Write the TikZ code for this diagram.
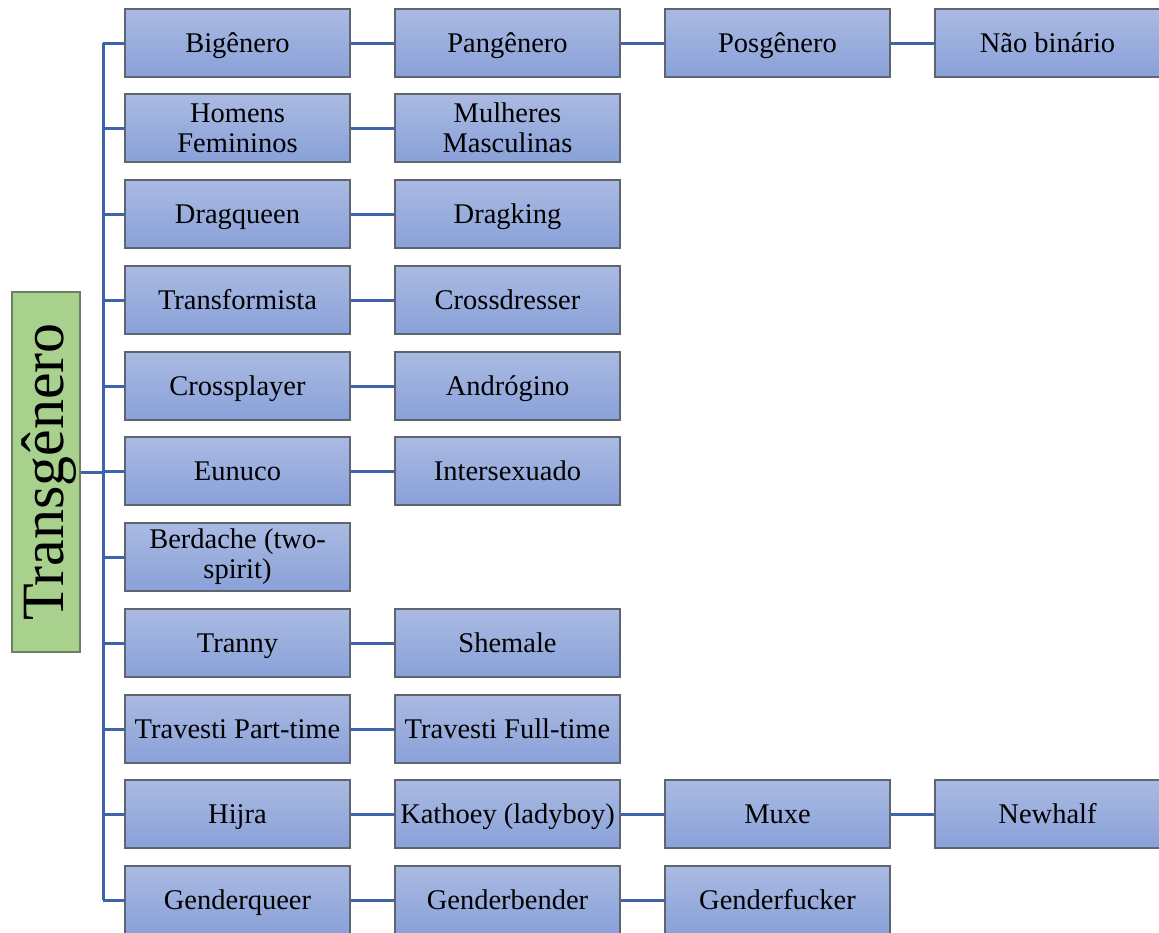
\documentclass[tikz,border=0pt]{standalone}
\usepackage{fontspec}
\setmainfont{Liberation Serif}
\definecolor{boxtop}{HTML}{AABAE2}
\definecolor{boxbot}{HTML}{89A1D9}
\definecolor{boxline}{HTML}{5F6570}
\definecolor{linkc}{HTML}{3E63AC}
\definecolor{rootfill}{HTML}{A9D18E}
\definecolor{rootline}{HTML}{6F7F66}
\begin{document}
\begin{tikzpicture}[x=1pt,y=-1pt,
  item/.style={draw=boxline,line width=1.2pt,top color=boxtop,bottom color=boxbot,
    minimum width=225pt,minimum height=68pt,inner sep=0pt,align=center,
    text height=21pt,text depth=3pt,
    font=\fontsize{28.5}{30}\selectfont},
  twoline/.style={text height=,text depth=},
  rootbox/.style={draw=rootline,line width=1.2pt,fill=rootfill,minimum width=68pt,minimum height=360pt,inner sep=0pt},
  link/.style={draw=linkc,line width=3pt}]
\useasboundingbox (0,0) rectangle (1159,932);
\def\ca{237.5}\def\cb{507.5}\def\cc{777.5}\def\cd{1047.5}
\node[rootbox] (root) at (46,472) {};
\node[rotate=90,font=\fontsize{60}{64}\selectfont] (roott) at ([xshift=3pt]root.center) {Transgênero};
\coordinate (tk) at (103,0);
% row 1
\node[item] (a1) at (\ca,43) {Bigênero};
\node[item] (a2) at (\cb,43) {Pangênero};
\node[item] (a3) at (\cc,43) {Posgênero};
\node[item] (a4) at (\cd,43) {Não binário};
% row 2
\node[item,twoline] (b1) at (\ca,128) {Homens\\Femininos};
\node[item,twoline] (b2) at (\cb,128) {Mulheres\\Masculinas};
% row 3
\node[item] (c1) at (\ca,214) {Dragqueen};
\node[item] (c2) at (\cb,214) {Dragking};
% row 4
\node[item] (d1) at (\ca,300) {Transformista};
\node[item] (d2) at (\cb,300) {Crossdresser};
% row 5
\node[item] (e1) at (\ca,386) {Crossplayer};
\node[item] (e2) at (\cb,386) {Andrógino};
% row 6
\node[item] (f1) at (\ca,471) {Eunuco};
\node[item] (f2) at (\cb,471) {Intersexuado};
% row 7
\node[item,twoline] (g1) at (\ca,557) {Berdache (two-\\spirit)};
% row 8
\node[item] (h1) at (\ca,643) {Tranny};
\node[item] (h2) at (\cb,643) {Shemale};
% row 9
\node[item] (i1) at (\ca,729) {Travesti Part-time};
\node[item] (i2) at (\cb,729) {Travesti Full-time};
% row 10
\node[item] (j1) at (\ca,814) {Hijra};
\node[item] (j2) at (\cb,814) {Kathoey (ladyboy)};
\node[item] (j3) at (\cc,814) {Muxe};
\node[item] (j4) at (\cd,814) {Newhalf};
% row 11
\node[item] (k1) at (\ca,900) {Genderqueer};
\node[item] (k2) at (\cb,900) {Genderbender};
\node[item] (k3) at (\cc,900) {Genderfucker};
% connectors
\draw[link] (root.east) -- (root.east -| tk);
\draw[link] (a1.west -| tk) -- (k1.west -| tk);
\foreach \n in {a1,b1,c1,d1,e1,f1,g1,h1,i1,j1,k1}{\draw[link] (\n.west -| tk) -- (\n.west);}
\draw[link] (a1) -- (a2); \draw[link] (a2) -- (a3); \draw[link] (a3) -- (a4);
\draw[link] (b1) -- (b2);
\draw[link] (c1) -- (c2);
\draw[link] (d1) -- (d2);
\draw[link] (e1) -- (e2);
\draw[link] (f1) -- (f2);
\draw[link] (h1) -- (h2);
\draw[link] (i1) -- (i2);
\draw[link] (j1) -- (j2); \draw[link] (j2) -- (j3); \draw[link] (j3) -- (j4);
\draw[link] (k1) -- (k2); \draw[link] (k2) -- (k3);
\end{tikzpicture}
\end{document}
